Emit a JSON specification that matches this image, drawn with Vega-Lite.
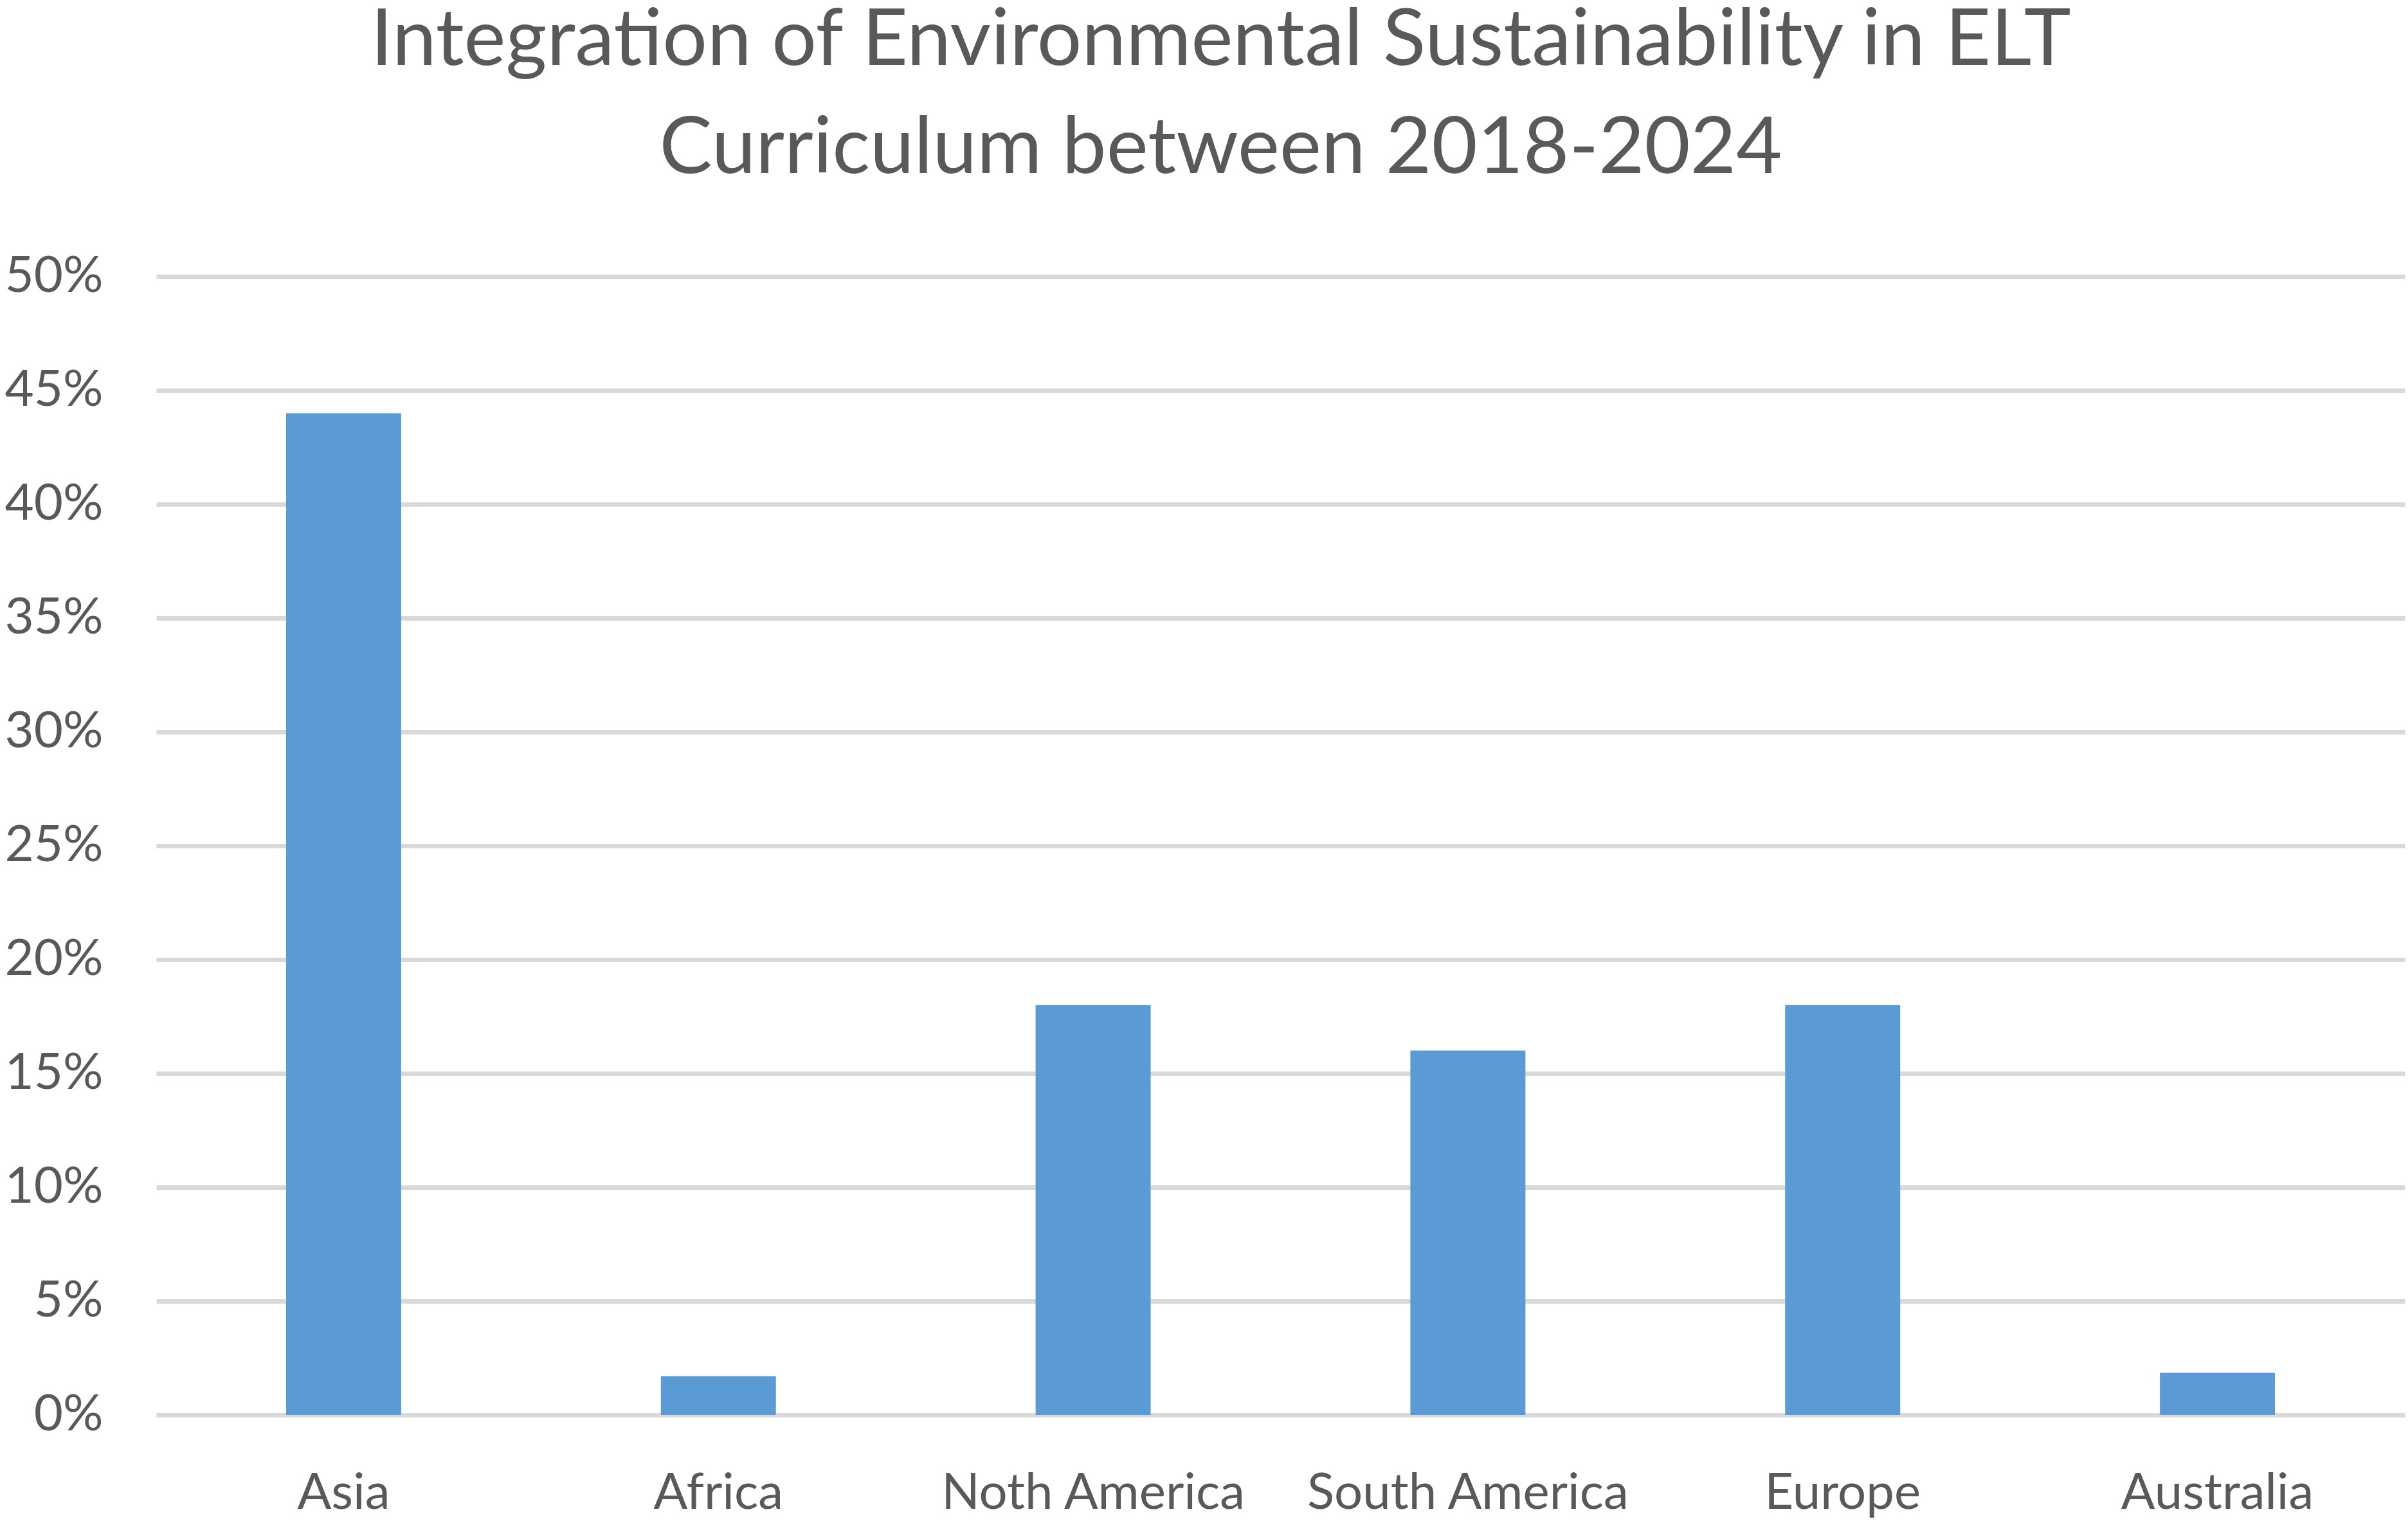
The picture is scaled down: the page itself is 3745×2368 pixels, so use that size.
{
  "$schema": "https://vega.github.io/schema/vega-lite/v6.json",
  "autosize": {"type": "none"},
  "padding": {"left": 243, "top": 430, "right": 5, "bottom": 168},
  "width": 3497,
  "height": 1770,
  "background": "white",
  "title": {
    "text": ["Integration of Environmental Sustainability in ELT", "Curriculum between 2018-2024"],
    "font": "Lato",
    "fontSize": 123,
    "fontWeight": "normal",
    "color": "#595959",
    "lineHeight": 168,
    "anchor": "middle",
    "frame": "group",
    "dx": -93,
    "offset": 96
  },
  "data": {
    "values": [
      {"region": "Asia", "share": 0.44},
      {"region": "Africa", "share": 0.017},
      {"region": "Noth America", "share": 0.18},
      {"region": "South America", "share": 0.16},
      {"region": "Europe", "share": 0.18},
      {"region": "Australia", "share": 0.0185}
    ]
  },
  "mark": {"type": "bar", "color": "#5b9bd5"},
  "encoding": {
    "x": {
      "field": "region",
      "type": "nominal",
      "sort": null,
      "scale": {"paddingInner": 0.693, "paddingOuter": 0.3465},
      "axis": {
        "title": null,
        "labelAngle": 0,
        "labelFont": "Lato",
        "labelFontSize": 78,
        "labelColor": "#595959",
        "labelPadding": 83,
        "labelLimit": 0,
        "labelOverlap": false,
        "ticks": false,
        "tickSize": 0,
        "domain": false,
        "grid": false,
        "labelBaseline": "top"
      }
    },
    "y": {
      "field": "share",
      "type": "quantitative",
      "scale": {"domain": [0, 0.5], "nice": false},
      "axis": {
        "title": null,
        "format": ".0%",
        "values": [0, 0.05, 0.1, 0.15, 0.2, 0.25, 0.3, 0.35, 0.4, 0.45, 0.5],
        "labelFont": "Lato",
        "labelFontSize": 78,
        "labelColor": "#595959",
        "labelPadding": 83,
        "ticks": false,
        "tickSize": 0,
        "domain": false,
        "grid": true,
        "gridColor": "#d9d9d9",
        "gridWidth": 7,
        "labelBaseline": "middle"
      }
    }
  },
  "config": {"view": {"stroke": null}}
}
